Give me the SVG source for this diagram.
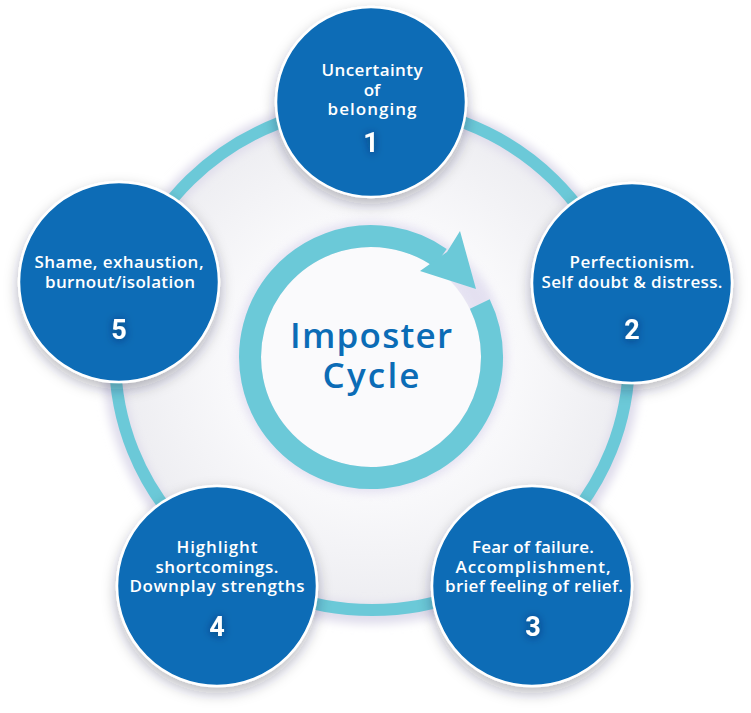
<svg xmlns="http://www.w3.org/2000/svg" width="751" height="713" viewBox="0 0 751 713">
<defs>
<style>
.node{fill:#0b6cb6;stroke:#ffffff;stroke-width:2.5;filter:url(#nshadow)}
.lbl{font-family:"Open Sans","Noto Sans",sans-serif;font-weight:600;font-size:17px;fill:#ffffff;text-anchor:middle}
.num{font-family:Roboto,"Liberation Sans",sans-serif;font-weight:700;font-size:27px;fill:#ffffff;text-anchor:middle;filter:url(#tshadow)}
.title{font-family:"Open Sans","Noto Sans",sans-serif;font-weight:600;font-size:35px;fill:#0b6cb6;text-anchor:middle}
</style>
<radialGradient id="inner" cx="0.5" cy="0.5" r="0.5">
<stop offset="0" stop-color="#ffffff"/>
<stop offset="0.55" stop-color="#f9f9fb"/>
<stop offset="1" stop-color="#ededf1"/>
</radialGradient>
<filter id="nshadow" x="-30%" y="-30%" width="160%" height="170%">
<feDropShadow dx="0" dy="6" stdDeviation="7" flood-color="#20203a" flood-opacity="0.3"/>
</filter>
<filter id="tshadow" x="-100%" y="-100%" width="300%" height="300%">
<feDropShadow dx="0" dy="1" stdDeviation="4" flood-color="#02234a" flood-opacity="0.6"/>
</filter>
<filter id="blur6" x="-20%" y="-20%" width="140%" height="140%">
<feGaussianBlur stdDeviation="5"/>
</filter>
</defs>
<rect x="0" y="0" width="751" height="713" fill="#ffffff"/>

<g id="connectors">
<ellipse cx="372" cy="358" rx="257" ry="252" fill="url(#inner)"/>
<ellipse cx="372" cy="360" rx="259" ry="254" fill="none" stroke="#dedbeb" stroke-width="20" filter="url(#blur6)"/>
<ellipse cx="372" cy="358" rx="257" ry="252" fill="none" stroke="#6bc9d8" stroke-width="12"/>
</g>

<g id="center">
<circle cx="371" cy="357" r="121" fill="none" stroke="#d6d0ea" stroke-width="30" filter="url(#blur6)" opacity="0.6"/>
<circle cx="371" cy="357" r="110" fill="#fafafc"/>
<path d="M 479.8 304 A 121 121 0 1 1 440.4 257.9" fill="none" stroke="#6bc9d8" stroke-width="22"/>
<path d="M 476 289 L 460 231 L 447 252 L 420 271 Z" fill="#6bc9d8"/>
<text class="title" x="371" y="348" textLength="162">Imposter</text>
<text class="title" x="371" y="388" textLength="97">Cycle</text>
</g>

<g id="node1">
<circle class="node" cx="371" cy="102" r="95"/>
<text class="lbl" x="372" y="76" textLength="101">Uncertainty</text>
<text class="lbl" x="372" y="96">of</text>
<text class="lbl" x="372" y="115" textLength="89">belonging</text>
<text class="num" x="371" y="152">1</text>
</g>

<g id="node2">
<circle class="node" cx="632" cy="283" r="100"/>
<text class="lbl" x="632" y="268" textLength="125">Perfectionism.</text>
<text class="lbl" x="632" y="288" textLength="181">Self doubt &amp; distress.</text>
<text class="num" x="632" y="339">2</text>
</g>

<g id="node3">
<circle class="node" cx="532" cy="586" r="100"/>
<text class="lbl" x="533" y="553" textLength="122">Fear of failure.</text>
<text class="lbl" x="533" y="573" textLength="155">Accomplishment,</text>
<text class="lbl" x="534" y="592" textLength="178">brief feeling of relief.</text>
<text class="num" x="533" y="636">3</text>
</g>

<g id="node4">
<circle class="node" cx="217" cy="586" r="100"/>
<text class="lbl" x="217" y="553" textLength="81">Highlight</text>
<text class="lbl" x="217" y="573" textLength="123">shortcomings.</text>
<text class="lbl" x="217" y="592" textLength="175">Downplay strengths</text>
<text class="num" x="217" y="636">4</text>
</g>

<g id="node5">
<circle class="node" cx="119" cy="282" r="100"/>
<text class="lbl" x="119" y="268" textLength="169">Shame, exhaustion,</text>
<text class="lbl" x="120" y="288" textLength="150">burnout/isolation</text>
<text class="num" x="119" y="339">5</text>
</g>
</svg>
